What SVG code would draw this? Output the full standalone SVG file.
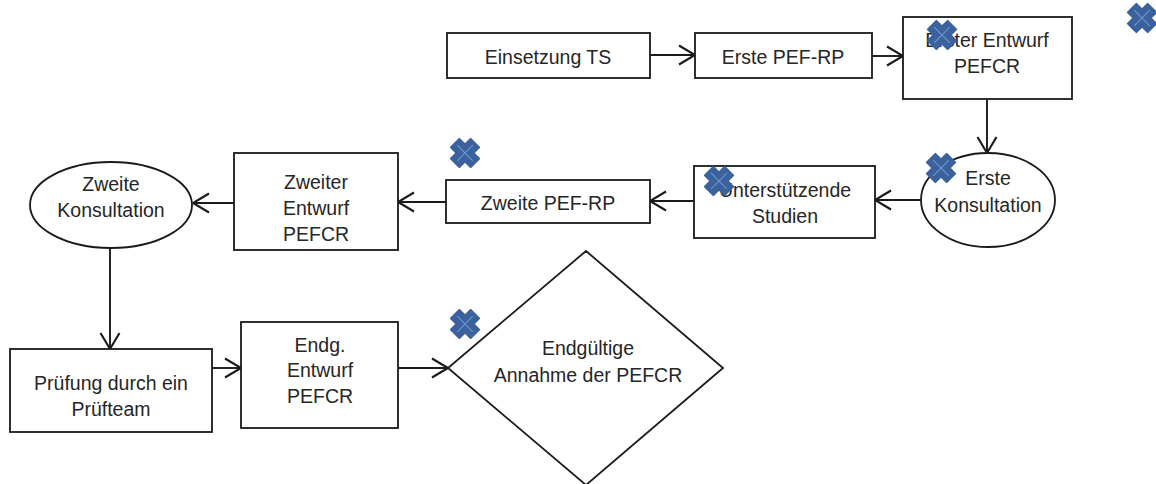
<svg xmlns="http://www.w3.org/2000/svg" width="1156" height="484" viewBox="0 0 1156 484">
<style>
.box{fill:#fff;stroke:#1a1a1a;stroke-width:1.8}
.t{font-family:"Liberation Sans",Arial,sans-serif;font-size:19.5px;fill:#262626;text-anchor:middle}
.c{fill:none;stroke:#1a1a1a;stroke-width:1.9}
</style>
<defs>
<marker id="arr" viewBox="0 0 22 22" refX="18" refY="11" markerWidth="22" markerHeight="22" markerUnits="userSpaceOnUse" orient="auto">
<path d="M2,1.5 L18,11 L2,20.5" fill="none" stroke="#1a1a1a" stroke-width="2.1"/>
</marker>
<g id="cross">
<path transform="rotate(45)" d="M-6,-14 L6,-14 L6,-6 L14,-6 L14,6 L6,6 L6,14 L-6,14 L-6,6 L-14,6 L-14,-6 L-6,-6 Z" fill="#3b629c" stroke="#3b629c" stroke-width="2" stroke-linejoin="round"/>
<path transform="rotate(45)" d="M-11,0 L11,0 M0,-11 L0,11" stroke="#6c9ad6" stroke-width="1"/>
</g>
</defs>
<rect width="1156" height="484" fill="#fff"/>

<g id="connectors">
<line class="c" x1="650" y1="55" x2="695" y2="55" marker-end="url(#arr)"/>
<line class="c" x1="872" y1="56" x2="903" y2="56" marker-end="url(#arr)"/>
<line class="c" x1="987" y1="99" x2="987" y2="153" marker-end="url(#arr)"/>
<line class="c" x1="921" y1="200" x2="875" y2="200" marker-end="url(#arr)"/>
<line class="c" x1="694" y1="201" x2="650" y2="201" marker-end="url(#arr)"/>
<line class="c" x1="446" y1="202" x2="398" y2="202" marker-end="url(#arr)"/>
<line class="c" x1="234" y1="203" x2="193" y2="203" marker-end="url(#arr)"/>
<line class="c" x1="110" y1="248" x2="110" y2="349" marker-end="url(#arr)"/>
<line class="c" x1="212" y1="368" x2="241" y2="368" marker-end="url(#arr)"/>
<line class="c" x1="398" y1="368" x2="448" y2="368" marker-end="url(#arr)"/>
</g>

<g id="einsetzung">
<rect class="box" x="447" y="33" width="203" height="45"/>
<text class="t" x="548" y="64">Einsetzung TS</text>
</g>
<g id="erste-pef-rp">
<rect class="box" x="695" y="33" width="177" height="45"/>
<text class="t" x="783" y="64">Erste PEF-RP</text>
</g>
<g id="erster-entwurf">
<rect class="box" x="903" y="17" width="169" height="82"/>
<text class="t" x="987" y="47">Erster Entwurf</text>
<text class="t" x="987" y="73">PEFCR</text>
</g>
<g id="erste-konsultation">
<ellipse class="box" cx="988" cy="200" rx="67" ry="47"/>
<text class="t" x="988" y="185">Erste</text>
<text class="t" x="988" y="212">Konsultation</text>
</g>
<g id="unterstuetzende">
<rect class="box" x="694" y="166" width="181" height="72"/>
<text class="t" x="785" y="197">Unterstützende</text>
<text class="t" x="785" y="223">Studien</text>
</g>
<g id="zweite-pef-rp">
<rect class="box" x="446" y="180" width="204" height="43"/>
<text class="t" x="548" y="210">Zweite PEF-RP</text>
</g>
<g id="zweiter-entwurf">
<rect class="box" x="234" y="153" width="164" height="97"/>
<text class="t" x="316" y="189">Zweiter</text>
<text class="t" x="316" y="215">Entwurf</text>
<text class="t" x="316" y="241">PEFCR</text>
</g>
<g id="zweite-konsultation">
<ellipse class="box" cx="111" cy="205" rx="81" ry="43"/>
<text class="t" x="111" y="191">Zweite</text>
<text class="t" x="111" y="217">Konsultation</text>
</g>
<g id="pruefung">
<rect class="box" x="10" y="349" width="202" height="83"/>
<text class="t" x="111" y="390">Prüfung durch ein</text>
<text class="t" x="111" y="416">Prüfteam</text>
</g>
<g id="endg-entwurf">
<rect class="box" x="241" y="322" width="157" height="106"/>
<text class="t" x="320" y="352">Endg.</text>
<text class="t" x="320" y="377">Entwurf</text>
<text class="t" x="320" y="403">PEFCR</text>
</g>
<g id="annahme">
<polygon class="box" points="586,251 723,368 586,485 448,368"/>
<text class="t" x="588" y="355">Endgültige</text>
<text class="t" x="588" y="382">Annahme der PEFCR</text>
</g>

<g id="markers">
<use href="#cross" x="942" y="35"/>
<use href="#cross" x="1142" y="18"/>
<use href="#cross" x="941" y="168"/>
<use href="#cross" x="719" y="181"/>
<use href="#cross" x="465" y="153"/>
<use href="#cross" x="465" y="324"/>
</g>
</svg>
